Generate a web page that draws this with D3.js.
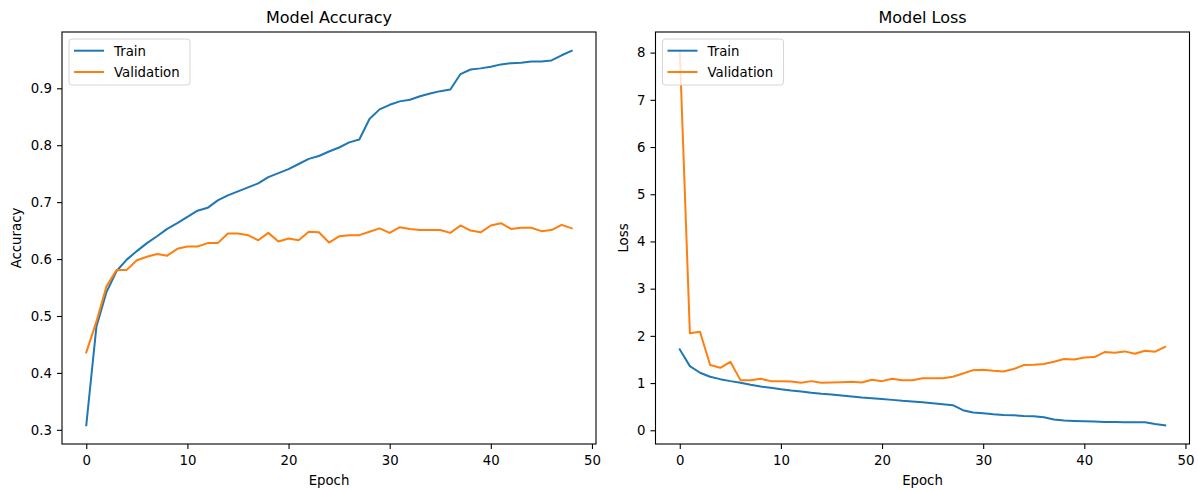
<!DOCTYPE html>
<html>
<head>
<meta charset="utf-8">
<script src="https://cdn.jsdelivr.net/npm/d3@7"></script>
<style>
  body { margin: 0; background: #fff; }
  text { font-family: "DejaVu Sans", sans-serif; fill: #000; }
</style>
</head>
<body>
<div id="chart"></div>
<script>
const width = 1198
const height = 491

// values, one per epoch (0..48)
const trainAcc = [0.308, 0.481, 0.542, 0.579, 0.599, 0.614, 0.628, 0.640, 0.653, 0.663,
  0.674, 0.685, 0.690, 0.703, 0.712, 0.719, 0.726, 0.733, 0.744, 0.751,
  0.758, 0.767, 0.776, 0.781, 0.789, 0.796, 0.805, 0.810, 0.846, 0.863,
  0.871, 0.877, 0.880, 0.886, 0.891, 0.895, 0.898, 0.925, 0.933, 0.935,
  0.938, 0.942, 0.944, 0.945, 0.947, 0.947, 0.949, 0.958, 0.966]
const valAcc = [0.436, 0.490, 0.552, 0.581, 0.581, 0.598, 0.604, 0.609, 0.606, 0.618,
  0.622, 0.622, 0.628, 0.628, 0.645, 0.645, 0.642, 0.633, 0.646, 0.631,
  0.636, 0.633, 0.648, 0.647, 0.629, 0.640, 0.642, 0.642, 0.648, 0.654,
  0.646, 0.656, 0.653, 0.651, 0.651, 0.651, 0.646, 0.659, 0.650, 0.647,
  0.659, 0.663, 0.653, 0.655, 0.655, 0.649, 0.651, 0.660, 0.654]
const trainLoss = [1.713, 1.359, 1.218, 1.133, 1.083, 1.041, 1.005, 0.963, 0.927, 0.899,
  0.871, 0.842, 0.821, 0.793, 0.772, 0.757, 0.736, 0.715, 0.694, 0.680,
  0.665, 0.644, 0.623, 0.609, 0.595, 0.573, 0.552, 0.531, 0.425, 0.375,
  0.361, 0.340, 0.326, 0.319, 0.304, 0.297, 0.276, 0.227, 0.205, 0.198,
  0.191, 0.184, 0.177, 0.177, 0.170, 0.170, 0.170, 0.135, 0.106]
const valLoss = [8.04, 2.053, 2.088, 1.381, 1.324, 1.451, 1.062, 1.062, 1.090, 1.041,
  1.041, 1.034, 1.005, 1.041, 1.005, 1.012, 1.019, 1.027, 1.012, 1.069,
  1.041, 1.090, 1.062, 1.062, 1.100, 1.104, 1.104, 1.133, 1.204, 1.274,
  1.281, 1.260, 1.246, 1.296, 1.381, 1.388, 1.402, 1.451, 1.508, 1.501,
  1.543, 1.550, 1.657, 1.642, 1.671, 1.621, 1.685, 1.664, 1.770]

const xTicks = [0, 10, 20, 30, 40, 50]
const accTicks = [0.3, 0.4, 0.5, 0.6, 0.7, 0.8, 0.9]
const lossTicks = [0, 1, 2, 3, 4, 5, 6, 7, 8]
const seriesNames = ["Train", "Validation"]
const colors = ["#1f77b4", "#ff7f0e"]

const svg = d3.select("#chart")
  .append("svg")
  .attr("width", width)
  .attr("height", height)

// matplotlib-like padded domain (5% each side)
function padded(ext) {
  const m = (ext[1] - ext[0]) * 0.05
  return [ext[0] - m, ext[1] + m]
}

function drawPanel(opts) {
  const left = opts.left, right = opts.right
  const top = 32, bottom = 444
  const g = svg.append("g")

  const nPts = opts.series[0].length
  const x = d3.scaleLinear().domain(padded([0, nPts - 1])).range([left, right])
  const y = d3.scaleLinear()
    .domain(padded(d3.extent(opts.series.flat())))
    .range([bottom, top])

  // axes
  g.append("g")
    .attr("transform", `translate(0,${bottom})`)
    .call(d3.axisBottom(x).tickValues(xTicks).tickSize(5).tickPadding(6.5).tickFormat(d3.format("d")))
    .call(a => a.select(".domain").remove())
    .call(a => a.selectAll("text").attr("font-size", 13.3).attr("font-family", "DejaVu Sans"))
    .call(a => a.selectAll("line").attr("stroke", "#000").attr("stroke-width", 1.1))

  g.append("g")
    .attr("transform", `translate(${left},0)`)
    .call(d3.axisLeft(y).tickValues(opts.yTicks).tickSize(5).tickPadding(5).tickFormat(opts.fmt))
    .call(a => a.select(".domain").remove())
    .call(a => a.selectAll("text").attr("font-size", 13.3).attr("font-family", "DejaVu Sans"))
    .call(a => a.selectAll("line").attr("stroke", "#000").attr("stroke-width", 1.1))

  // lines
  const line = d3.line().x((d, i) => x(i)).y(d => y(d))
  opts.series.forEach((s, k) => {
    g.append("path")
      .datum(s)
      .attr("fill", "none")
      .attr("stroke", colors[k])
      .attr("stroke-width", 2)
      .attr("stroke-linejoin", "round")
      .attr("stroke-linecap", "square")
      .attr("d", line)
  })

  // frame
  g.append("rect")
    .attr("x", left).attr("y", top)
    .attr("width", right - left).attr("height", bottom - top)
    .attr("fill", "none")
    .attr("stroke", "#000")
    .attr("stroke-width", 1.1)

  // title + labels
  const cx = (left + right) / 2
  g.append("text").attr("x", cx).attr("y", 23)
    .attr("text-anchor", "middle").attr("font-size", 16)
    .text(opts.title)
  g.append("text").attr("x", cx).attr("y", 485)
    .attr("text-anchor", "middle").attr("font-size", 13.3)
    .text("Epoch")
  g.append("text")
    .attr("transform", `translate(${opts.ylabelX},${(top + bottom) / 2}) rotate(-90)`)
    .attr("text-anchor", "middle").attr("font-size", 13.3)
    .text(opts.ylabel)

  // legend
  const lg = g.append("g").attr("transform", `translate(${left + 7},39)`)
  lg.append("rect")
    .attr("width", 121).attr("height", 46).attr("rx", 3)
    .attr("fill", "#fff").attr("fill-opacity", 0.8)
    .attr("stroke", "#d6d6d6").attr("stroke-width", 1)
  seriesNames.forEach((name, k) => {
    const yy = 11.7 + k * 21.3
    lg.append("line")
      .attr("x1", 5).attr("x2", 35).attr("y1", yy).attr("y2", yy)
      .attr("stroke", colors[k]).attr("stroke-width", 2)
    lg.append("text")
      .attr("x", 45).attr("y", yy + 4.8)
      .attr("font-size", 13.3)
      .text(name)
  })
}

drawPanel({
  left: 62, right: 596,
  series: [trainAcc, valAcc],
  yTicks: accTicks, fmt: d3.format(".1f"),
  title: "Model Accuracy", ylabel: "Accuracy", ylabelX: 21
})

drawPanel({
  left: 655.5, right: 1189.5,
  series: [trainLoss, valLoss],
  yTicks: lossTicks, fmt: d3.format("d"),
  title: "Model Loss", ylabel: "Loss", ylabelX: 628
})
</script>
</body>
</html>
